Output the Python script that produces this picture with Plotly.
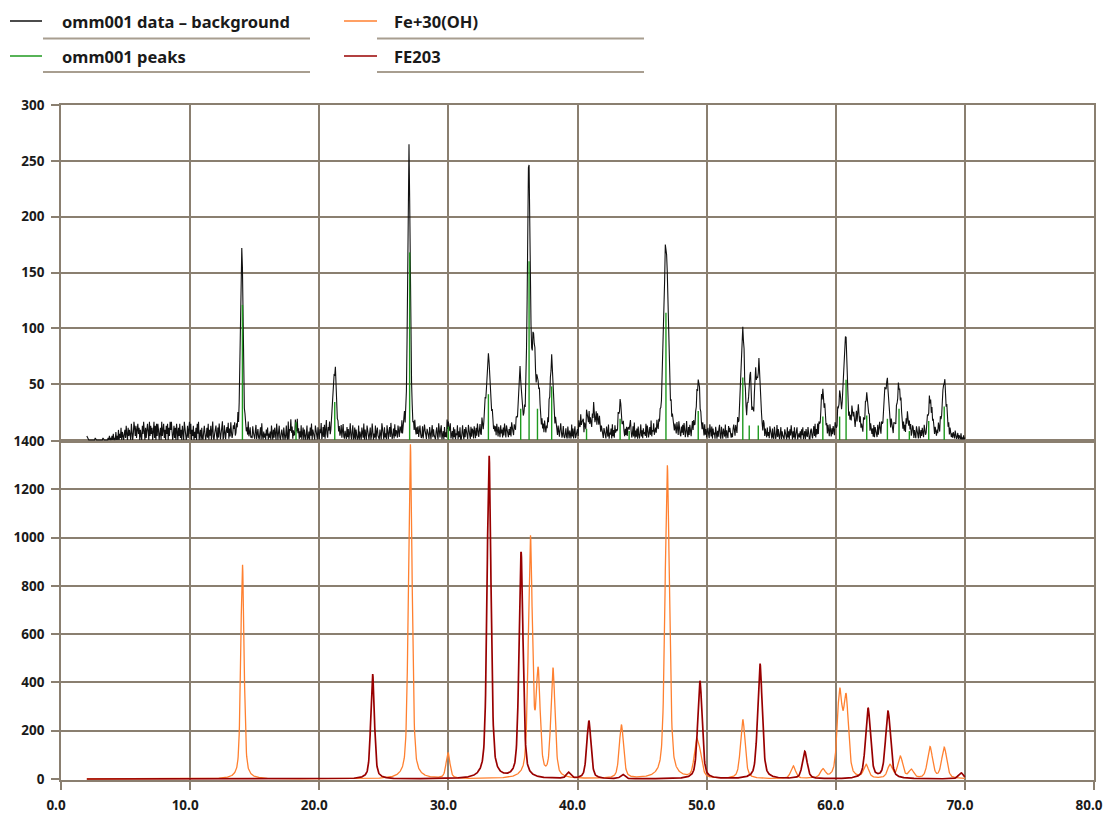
import numpy as np
import plotly.graph_objects as go

# ---------------- data ----------------
# omm001 measured scan (data minus background), 2.0 - 70.0 deg, step 0.05
scan_start = 2.0
scan_step = 0.05
# residual counts per step, one digit per point (x noise_unit counts), one row per degree
noise_rows = [
    "21100 00000 00010 00000", "00000 10000 00010 20102", "03010 40205 03160 42035",
    "17306 25108 40396 27158", "36052 07394 06158 40927", "36049 17082 85036 09248",
    "15073 80629 59403 71608", "40628 15073 09640 27159", "38052 70416 08390 25061",
    "04730 26180 52704 91035", "72061 84035 90172 04638", "05183 02647 01528 03740",
    "16020 41030 70250 10630", "04702 51036 08204 13052", "60314 07205 16308 20471",
    "03520 64027 10905 30260", "41063 08250 41703 60520", "37014 06280 53107 42061",
    "05380 26170 49205 37014", "60230 71503 04026 03710", "42061 50382 04701 60530",
    "17042 06318 05207 41036", "02850 31704 62105 30842", "06130 72046 18302 50714",
    "30620 54170 32805 16047", "21054 03062 04150 36201", "60374 10522 06304 71520",
    "04620 83157 02406 13082", "51370 24061 50327 04160", "03720 51640 07320 61540",
    "62051 74036 10830 25710", "30420 16052 03140 62051", "06240 51720 63204 15073",
    "20531 64027 35016 40250", "43061 50273 04106 20531", "06320 51406 20315 07240",
    "51042 06310 52047 30261", "02510 63042 07150 36024", "40731 60246 05308 41072",
    "62051 84037 05206 41530", "05320 64170 32507 14062", "31062 05410 36204 15032",
    "05730 26180 41506 20371", "40523 17064 02518 03260", "13062 04152 03604 17025",
    "30420 61523 04106 20731", "05261 74038 20516 30472", "62031 50426 03105 20614",
    "03520 74160 52306 20415", "71062 05317 04206 35102", "04630 52073 16052 04160",
    "52063 04162 05304 26031", "06420 53176 04205 13062", "20510 64027 15203 60421",
    "05320 61405 27304 16025", "60231 40526 03405 21630", "04520 36170 41605 20371",
    "52063 14052 06304 15206", "31062 05410 36204 15306", "05240 63152 04703 62051",
    "42063 05142 03605 21406", "05320 61473 05204 16302", "41052 06310 54206 31502",
    "06320 51406 27304 15026", "50420 63106 20415 30620", "03520 61406 25304 20316",
    "40620 53104 20631 50420", "20310 42013 02103 01020", "1",
]
noise_unit = 1.8

# omm001 diffraction peaks: position (deg 2theta), height (counts), FWHM (deg)
data_peak_pos = [14.0, 17.8, 18.2, 21.2, 26.95, 30.0, 33.1, 35.55, 36.22, 36.6, 36.95,
                 38.0, 40.3, 40.8, 41.25, 41.6, 43.3, 44.0, 46.85, 49.35, 52.8, 53.35,
                 53.8, 54.05, 59.0, 60.3, 60.75, 61.3, 61.75, 62.4, 63.8, 64.0, 64.9,
                 65.6, 67.3, 68.4]
data_peak_height = [170, 18, 9, 58, 252, 7, 70, 52, 240, 78, 40,
                    66, 12, 15, 17, 13, 27, 8, 170, 46, 92, 50,
                    44, 55, 36, 30, 88, 16, 18, 34, 22, 40, 44,
                    12, 30, 50]
data_peak_fwhm = [0.22, 0.05, 0.2, 0.3, 0.22, 0.2, 0.4, 0.3, 0.24, 0.3, 0.3,
                  0.3, 0.3, 0.3, 0.3, 0.3, 0.3, 0.2, 0.42, 0.35, 0.32, 0.25,
                  0.25, 0.25, 0.35, 0.3, 0.3, 0.3, 0.3, 0.3, 0.3, 0.3, 0.35,
                  0.3, 0.35, 0.35]

# omm001 peak list (stick heights)
found_pos = [14.05, 18.2, 21.2, 27.0, 30.0, 33.1, 35.6, 36.25, 36.9, 38.0, 40.7, 43.3,
             44.0, 46.85, 49.35, 52.8, 53.3, 54.0, 59.0, 60.3, 60.8, 62.4, 64.0, 64.9,
             65.7, 67.2, 68.4]
found_height = [121, 16, 34, 168, 12, 41, 28, 160, 28, 48, 10, 19,
                8, 114, 26, 56, 13, 13, 21, 21, 54, 22, 19, 28,
                8, 17, 30]

# reference pattern Fe+3O(OH)
feooh_pos = [14.05, 27.05, 29.97, 36.35, 36.95, 38.1, 43.4, 46.95, 49.2, 49.5, 52.8,
             56.7, 59.0, 60.3, 60.8, 62.35, 64.2, 65.0, 65.85, 67.3, 68.4]
feooh_height = [890, 1390, 107, 990, 415, 450, 222, 1300, 140, 80, 245,
                53, 35, 345, 320, 55, 55, 90, 35, 130, 128]

# reference pattern FE2O3
fe2o3_pos = [24.13, 33.15, 35.63, 39.3, 40.88, 43.5, 49.48, 54.13, 57.6, 62.5, 64.05, 69.7]
fe2o3_height = [436, 1340, 936, 25, 241, 18, 406, 478, 113, 292, 278, 25]

top_ticks = [50, 100, 150, 200, 250, 300]
bottom_ticks = [0, 200, 400, 600, 800, 1000, 1200, 1400]
x_ticks = [0, 10, 20, 30, 40, 50, 60, 70, 80]
x_tick_labels = ["0.0", "10.0", "20.0", "30.0", "40.0", "50.0", "60.0", "70.0", "80.0"]


# ---------------- profiles ----------------
def pseudo_voigt(x, pos, height, fwhm, eta=0.5):
    d = (x - pos) / fwhm
    gauss = np.exp(-4.0 * np.log(2.0) * d * d)
    lorentz = 1.0 / (1.0 + 4.0 * d * d)
    return height * (eta * lorentz + (1.0 - eta) * gauss)


def reference_fwhm(pos):
    return 0.26 + 0.003 * pos


noise = np.array([int(c) for c in "".join(r.replace(" ", "") for r in noise_rows)],
                 dtype=float) * noise_unit
scan_x = scan_start + scan_step * np.arange(len(noise))
scan_y = noise.copy()
for p, h, w in zip(data_peak_pos, data_peak_height, data_peak_fwhm):
    scan_y += pseudo_voigt(scan_x, p, h, w)

ref_x = np.round(np.arange(2.0, 70.0001, 0.02), 4)
feooh_y = np.zeros_like(ref_x)
for p, h in zip(feooh_pos, feooh_height):
    feooh_y += pseudo_voigt(ref_x, p, h, reference_fwhm(p))
fe2o3_y = np.zeros_like(ref_x)
for p, h in zip(fe2o3_pos, fe2o3_height):
    fe2o3_y += pseudo_voigt(ref_x, p, h, reference_fwhm(p))

stick_x, stick_y = [], []
for p, h in zip(found_pos, found_height):
    stick_x += [p, p, None]
    stick_y += [0, h, None]

# ---------------- figure ----------------
BLACK = "#111111"
GREEN = "#1f9a1f"
ORANGE = "#ff8030"
DARKRED = "#990000"
GRID = "#8a7f70"
RULE = "#a89e90"
FONT = "Noto Sans"

fig = go.Figure()
fig.add_trace(go.Scatter(x=ref_x, y=feooh_y, mode="lines", name="Fe+30(OH)",
                         line=dict(color=ORANGE, width=1.3), xaxis="x", yaxis="y"))
fig.add_trace(go.Scatter(x=ref_x, y=fe2o3_y, mode="lines", name="FE203",
                         line=dict(color=DARKRED, width=1.7), xaxis="x", yaxis="y"))
fig.add_trace(go.Scatter(x=scan_x, y=scan_y, mode="lines", name="omm001 data – background",
                         line=dict(color=BLACK, width=1.1), xaxis="x2", yaxis="y2"))
fig.add_trace(go.Scatter(x=stick_x, y=stick_y, mode="lines", name="omm001 peaks",
                         line=dict(color=GREEN, width=1.4), xaxis="x2", yaxis="y2"))

L, R, T, B = 61, 10, 105, 35
W, H = 1104, 815
pw, ph = W - L - R, H - T - B
split = 339 / ph

tickfont = dict(family=FONT, size=13.5, color="#1a1a1a", weight="bold")
common_x = dict(range=[0, 80], tickvals=x_ticks, showgrid=True, gridcolor=GRID, gridwidth=1.6,
                zeroline=False, showline=True, linecolor=GRID, linewidth=1.6, mirror=True,
                layer="below traces", automargin=False)
common_y = dict(showgrid=True, gridcolor=GRID, gridwidth=1.6, zeroline=False, showline=True,
                linecolor=GRID, linewidth=1.6, mirror=True, ticks="outside", ticklen=8,
                tickwidth=1.6, tickcolor=GRID, tickfont=tickfont, layer="below traces",
                automargin=False, ticklabelstandoff=4)

fig.update_layout(
    width=W, height=H,
    margin=dict(l=L, r=R, t=T, b=B),
    paper_bgcolor="white", plot_bgcolor="white",
    showlegend=False,
    xaxis=dict(common_x, anchor="y", domain=[0, 1], ticktext=x_tick_labels, ticks="outside",
               ticklen=8, tickwidth=1.6, tickcolor=GRID, tickfont=tickfont,
               ticklabelstandoff=4, ticklabelshift=-5),
    xaxis2=dict(common_x, anchor="y2", matches="x", showticklabels=False, ticks=""),
    yaxis=dict(common_y, domain=[0, split], range=[-4, 1400], tickvals=bottom_ticks),
    yaxis2=dict(common_y, domain=[split, 1], range=[-0.9, 300], tickvals=top_ticks),
)


# legend drawn as text with sample lines and rules beneath each entry
def px_x(v):
    return (v - L) / pw


def px_y(v):
    return (H - B - v) / ph


legend_entries = [
    ("omm001 data – background", BLACK, 10, 42, 60, 21, 43, 310, 38.5),
    ("omm001 peaks", GREEN, 10, 42, 60, 56, 43, 310, 72),
    ("Fe+30(OH)", ORANGE, 344, 377, 392, 21, 377, 644, 38.5),
    ("FE203", DARKRED, 344, 377, 392, 56, 377, 644, 72),
]
for text, color, s0, s1, tx, ty, r0, r1, ry in legend_entries:
    fig.add_shape(type="line", xref="paper", yref="paper", x0=px_x(s0), x1=px_x(s1),
                  y0=px_y(ty), y1=px_y(ty), line=dict(color=color, width=1.5))
    fig.add_shape(type="line", xref="paper", yref="paper", x0=px_x(r0), x1=px_x(r1),
                  y0=px_y(ry), y1=px_y(ry), line=dict(color=RULE, width=2))
    fig.add_annotation(text=text, xref="paper", yref="paper", x=px_x(tx), y=px_y(ty),
                       xanchor="left", yanchor="middle", showarrow=False,
                       font=dict(family=FONT, size=16.5, color="#1a1a1a", weight="bold"))

fig.write_html("out.html")
